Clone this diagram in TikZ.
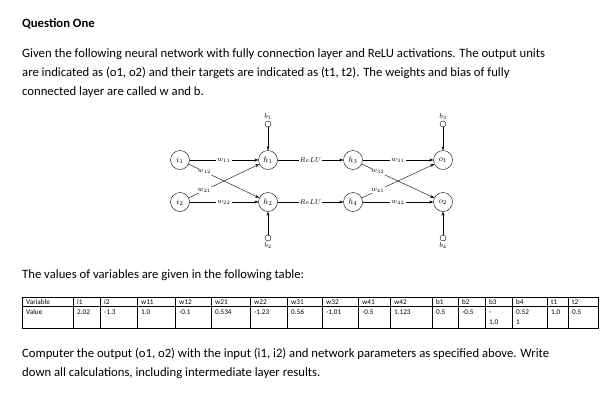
\documentclass[tikz,border=0pt]{standalone}
\usepackage{fontspec}
\setmainfont{Carlito}
\usetikzlibrary{arrows.meta}
\begin{document}
\begin{tikzpicture}[x=1pt,y=-1pt,
	neuron/.style={draw,circle,minimum size=19pt,inner sep=0pt,font=\footnotesize},
	bias/.style={draw,circle,minimum size=6pt,inner sep=0pt},
	conn/.style={-{Stealth[length=4pt]},thin},
	wlab/.style={fill=white,inner sep=1pt,font=\scriptsize},
	para/.style={anchor=base west,inner sep=0pt,font=\fontsize{12.7}{15}\selectfont},
	cell/.style={anchor=base west,inner sep=0pt,font=\fontsize{7.2}{7}\selectfont}]
\useasboundingbox (0,0) rectangle (608,416);
% text
\node[para,font=\fontsize{12.7}{15}\selectfont\bfseries] (title) at (22,27) {Question One};
\node[para] (p1) at (22,57) {Given the following neural network with fully connection layer and ReLU activations. The output units};
\node[para] (p2) at (22,76) {are indicated as (o1, o2) and their targets are indicated as (t1, t2). The weights and bias of fully};
\node[para] (p3) at (22,95) {connected layer are called w and b.};
% network
\node[neuron] (i1) at (180,160) {$i_1$};
\node[neuron] (i2) at (180,202) {$i_2$};
\node[neuron] (h1) at (268,160) {$h_1$};
\node[neuron] (h2) at (268,202) {$h_2$};
\node[neuron] (h3) at (353,160) {$h_3$};
\node[neuron] (h4) at (353,202) {$h_4$};
\node[neuron] (o1) at (443,160) {$o_1$};
\node[neuron] (o2) at (443,202) {$o_2$};
\node[bias,label={[font=\scriptsize,inner sep=1pt]above:$b_1$}] (b1) at (268,124) {};
\node[bias,label={[font=\scriptsize,inner sep=1pt]below:$b_2$}] (b2) at (268,238) {};
\node[bias,label={[font=\scriptsize,inner sep=1pt]above:$b_3$}] (b3) at (443,124) {};
\node[bias,label={[font=\scriptsize,inner sep=1pt]below:$b_4$}] (b4) at (443,238) {};
\draw[conn] (i1) -- node[wlab] {$w_{11}$} (h1);
\draw[conn] (i2) -- node[wlab] {$w_{22}$} (h2);
\draw[conn] (i1) -- node[wlab,pos=0.22] {$w_{12}$} (h2);
\draw[conn] (i2) -- node[wlab,pos=0.22] {$w_{21}$} (h1);
\draw[conn] (h1) -- node[wlab] {$ReLU$} (h3);
\draw[conn] (h2) -- node[wlab] {$ReLU$} (h4);
\draw[conn] (h3) -- node[wlab] {$w_{31}$} (o1);
\draw[conn] (h4) -- node[wlab] {$w_{42}$} (o2);
\draw[conn] (h3) -- node[wlab,pos=0.22] {$w_{32}$} (o2);
\draw[conn] (h4) -- node[wlab,pos=0.22] {$w_{41}$} (o1);
\foreach \b/\n in {b1/h1,b2/h2,b3/o1,b4/o2}
	\draw[conn] (\b) -- (\n);
% table
\node[para] (p4) at (22,278) {The values of variables are given in the following table:};
\draw[thin] (22,297) rectangle (598,328);
\draw[thin] (22,306) -- (598,306);
\foreach \x in {73,100,137,175,211,250,287,322,358,390,432,458,485,512,547,568}
	\draw[thin] (\x,297) -- (\x,328);
\foreach \x/\v [count=\k] in {22/Variable,73/i1,100/i2,137/w11,175/w12,211/w21,250/w22,287/w31,322/w32,358/w41,390/w42,432/b1,458/b2,485/b3,512/b4,547/t1,568/t2}
	\node[cell] (var\k) at (\x+4,304) {\v};
\foreach \x/\v [count=\k] in {22/Value,73/2.02,100/-1.3,137/1.0,175/-0.1,211/0.534,250/-1.23,287/0.56,322/-1.01,358/-0.5,390/1.123,432/0.5,458/-0.5,485/-,512/0.52,547/1.0,568/0.5}
	\node[cell] (val\k) at (\x+4,314) {\v};
\node[cell] (b3b) at (489,324.5) {1.0};
\node[cell] (b4b) at (516,324.5) {1};
% question
\node[para] (p5) at (22,357) {Computer the output (o1, o2) with the input (i1, i2) and network parameters as specified above. Write};
\node[para] (p6) at (22,376) {down all calculations, including intermediate layer results.};
\end{tikzpicture}
\end{document}
